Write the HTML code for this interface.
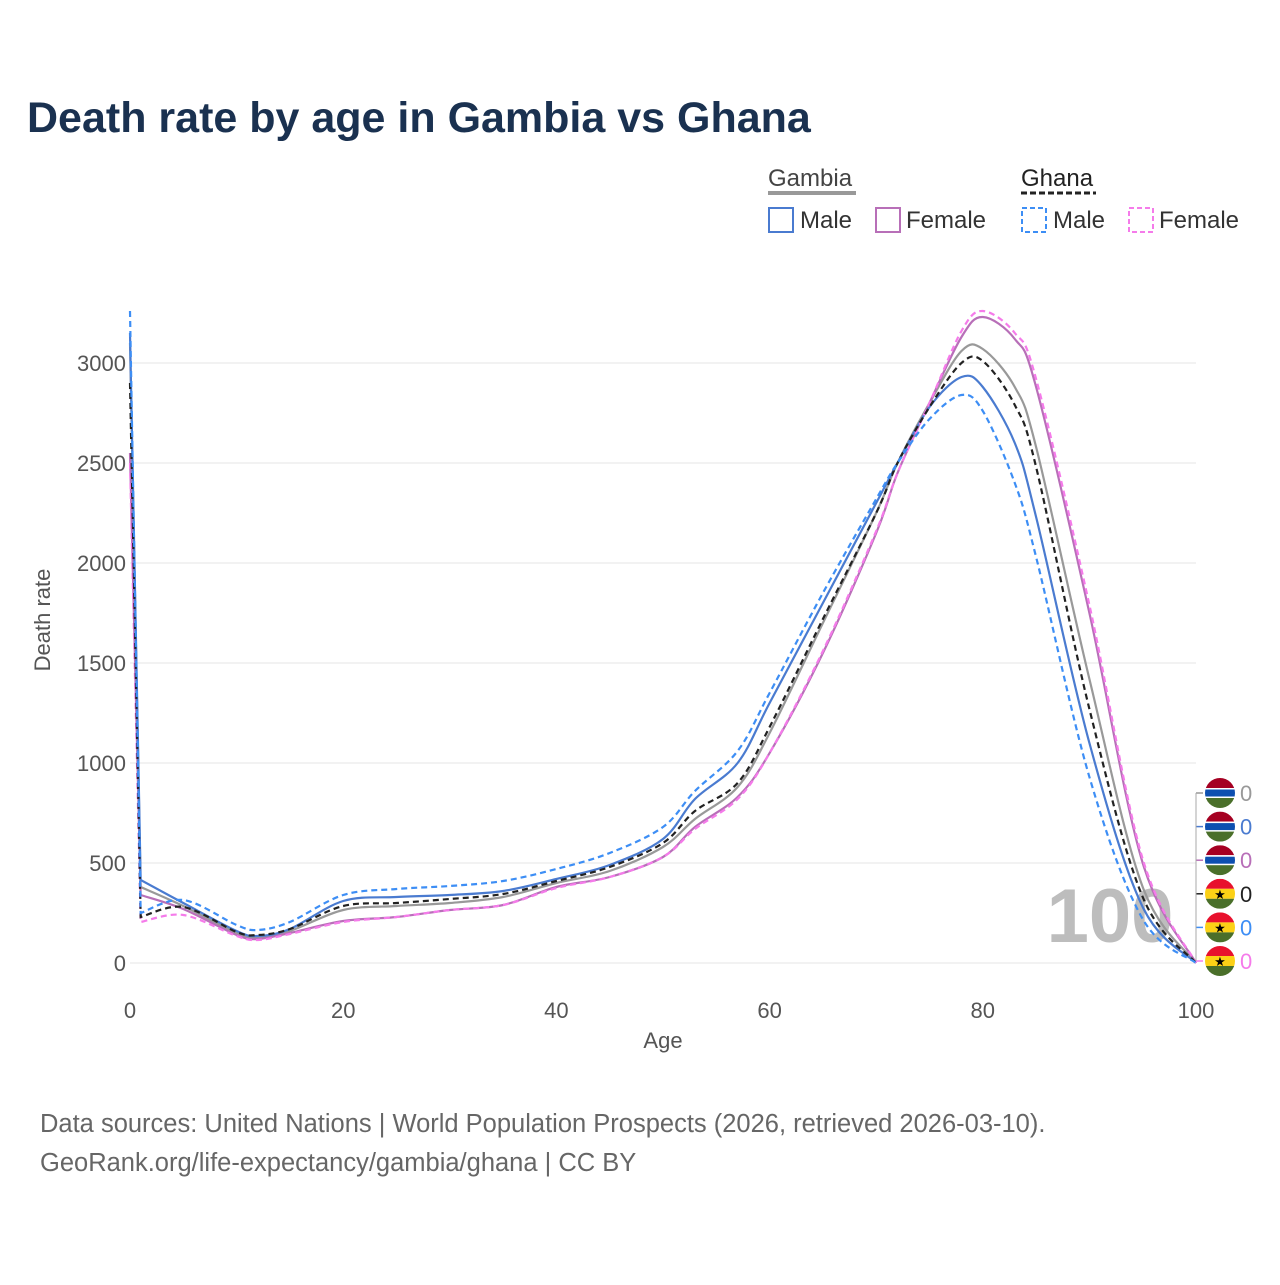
<!DOCTYPE html>
<html><head><meta charset="utf-8"><style>
body{margin:0;background:#fff;font-family:"Liberation Sans",sans-serif}
svg text{font-family:"Liberation Sans",sans-serif}
</style></head><body>
<svg id="chart" width="1280" height="1280" viewBox="0 0 1280 1280">
<text x="27" y="132" font-size="43" font-weight="bold" fill="#1a3150">Death rate by age in Gambia vs Ghana</text>
<g>
<text x="768" y="186" font-size="24" fill="#444">Gambia</text>
<line x1="768" y1="193" x2="856" y2="193" stroke="#999" stroke-width="4"/>
<text x="1021" y="186" font-size="24" fill="#222">Ghana</text>
<line x1="1021" y1="193" x2="1096" y2="193" stroke="#222" stroke-width="3" stroke-dasharray="6,3"/>
<rect x="769" y="208" width="24" height="24" fill="none" stroke="#4a7bd0" stroke-width="2"/>
<text x="800" y="228" font-size="24" fill="#333">Male</text>
<rect x="876" y="208" width="24" height="24" fill="none" stroke="#b86fb8" stroke-width="2"/>
<text x="906" y="228" font-size="24" fill="#333">Female</text>
<rect x="1022" y="208" width="24" height="24" fill="none" stroke="#3d8ef5" stroke-width="2" stroke-dasharray="5,3"/>
<text x="1053" y="228" font-size="24" fill="#333">Male</text>
<rect x="1129" y="208" width="24" height="24" fill="none" stroke="#f57bea" stroke-width="2" stroke-dasharray="5,3"/>
<text x="1159" y="228" font-size="24" fill="#333">Female</text>
</g>
<g id="grid"></g>
<text x="1110" y="942" font-size="76" font-weight="bold" fill="#bdbdbd" text-anchor="middle">100</text>
<g id="series"></g>
<g id="axes"></g>
<text x="50" y="620" font-size="22" fill="#555" text-anchor="middle" transform="rotate(-90 50 620)">Death rate</text>
<text x="663" y="1048" font-size="22" fill="#555" text-anchor="middle">Age</text>
<g id="endlabels"></g>
<text x="40" y="1132" font-size="25.5" fill="#666">Data sources: United Nations | World Population Prospects (2026, retrieved 2026-03-10).</text>
<text x="40" y="1171" font-size="25.5" fill="#666">GeoRank.org/life-expectancy/gambia/ghana | CC BY</text>
</svg>
<script>
const ages=[0,1,5,10,12,15,20,25,30,35,40,45,50,53,57,60,65,70,72,75,78,80,83,85,90,95,100];
const gambiaTotal=[3100,380,285,150,130,160,265,285,300,330,400,460,580,720,880,1150,1700,2250,2500,2800,3060,3070,2880,2580,1420,380,0];
const gambiaMale=[3150,415,300,160,135,170,310,330,340,360,420,490,620,820,1000,1300,1800,2300,2500,2780,2930,2880,2600,2230,1100,280,0];
const gambiaFemale=[2550,340,270,140,120,150,210,230,265,290,380,430,530,680,830,1050,1550,2150,2450,2800,3130,3230,3120,2880,1750,500,0];
const ghanaTotal=[2900,230,280,155,140,170,285,300,320,345,410,480,600,760,900,1180,1720,2250,2500,2780,3000,3010,2790,2480,1270,330,0];
const ghanaMale=[3260,250,315,190,165,205,340,370,385,410,470,550,680,860,1060,1350,1850,2320,2500,2720,2840,2760,2400,2030,930,220,0];
const ghanaFemale=[2500,205,240,135,115,145,205,230,265,290,375,430,530,670,820,1050,1560,2160,2450,2800,3160,3260,3150,2920,1790,520,0];
const yTicks=[0,500,1000,1500,2000,2500,3000];
const xTicks=[0,20,40,60,80,100];
const NS="http://www.w3.org/2000/svg";
const X=a=>130+a*10.66, Y=v=>963-v*0.2;
function mk(t,at,parent){const e=document.createElementNS(NS,t);for(const k in at)e.setAttribute(k,at[k]);document.getElementById(parent).appendChild(e);return e;}
yTicks.forEach(v=>{
 const l=mk('line',{x1:130,x2:1196,y1:Y(v),y2:Y(v),stroke:'#e6e6e6','stroke-width':1},'grid');
 
 
 const t=mk('text',{x:126,y:Y(v)+8,'font-size':22,fill:'#555','text-anchor':'end'},'axes');
 t.textContent=v;
 
 
});
xTicks.forEach(v=>{
 const t=mk('text',{x:X(v),y:1018,'font-size':22,fill:'#555','text-anchor':'middle'},'axes');
 t.textContent=v;
 
 
});
function path(vals){
 const p=ages.map((a,i)=>[X(a),Y(vals[i])]);
 let d=`M${p[0][0]},${p[0][1]} L${p[1][0]},${p[1][1]}`;
 for(let i=1;i<p.length-1;i++){
  const p0=p[Math.max(1,i-1)],p1=p[i],p2=p[i+1],p3=p[Math.min(p.length-1,i+2)];
  const c1=[p1[0]+(p2[0]-p0[0])/6,p1[1]+(p2[1]-p0[1])/6];
  const c2=[p2[0]-(p3[0]-p1[0])/6,p2[1]-(p3[1]-p1[1])/6];
  d+=` C${c1[0]},${c1[1]} ${c2[0]},${c2[1]} ${p2[0]},${p2[1]}`;
 }
 return d;
}
const series=[
 [gambiaTotal,'#999',false,'gambia-total-line'],
 [gambiaFemale,'#b86fb8',false,'gambia-female-line'],
 [gambiaMale,'#4a7bd0',false,'gambia-male-line'],
 [ghanaFemale,'#f57bea',true,'ghana-female-line'],
 [ghanaTotal,'#222',true,'ghana-total-line'],
 [ghanaMale,'#3d8ef5',true,'ghana-male-line']];
series.forEach(s=>{
 const e=mk('path',{d:path(s[0]),fill:'none',stroke:s[1],'stroke-width':2.2},'series');
 if(s[2])e.setAttribute('stroke-dasharray','6,4');
 
 
});
const flags=['gm','gm','gm','gh','gh','gh'];
const lblCol=['#999','#4a7bd0','#b86fb8','#222','#3d8ef5','#f57bea'];
flags.forEach((f,i)=>{
 const cy=793+i*33.6;
 mk('line',{x1:1196,x2:1203,y1:cy,y2:cy,stroke:lblCol[i],'stroke-width':1.5},'endlabels');
 const g=mk('g',{},'endlabels');
 
 
 const id='c'+i;
 const cp=document.createElementNS(NS,'clipPath');cp.setAttribute('id',id);
 const cc=document.createElementNS(NS,'circle');cc.setAttribute('cx',1220);cc.setAttribute('cy',cy);cc.setAttribute('r',15);cp.appendChild(cc);g.appendChild(cp);
 const r=(y,h,c)=>{const e=document.createElementNS(NS,'rect');e.setAttribute('x',1205);e.setAttribute('y',y);e.setAttribute('width',30);e.setAttribute('height',h);e.setAttribute('fill',c);e.setAttribute('clip-path',`url(#${id})`);g.appendChild(e);};
 if(f==='gm'){r(cy-15,10,'#a50022');r(cy-5,10,'#fff');r(cy-3.5,7,'#0d4fb0');r(cy+5,10,'#4a6f2a');}
 else{r(cy-15,10,'#e8112d');r(cy-5,10,'#fcd116');r(cy+5,10,'#4a6f2a');
  const s=document.createElementNS(NS,'text');s.setAttribute('x',1220);s.setAttribute('y',cy+5);s.setAttribute('font-size',13);s.setAttribute('text-anchor','middle');s.textContent='★';g.appendChild(s);}
 const t=mk('text',{x:1240,y:cy+8,'font-size':22,fill:lblCol[i]},'endlabels');
 t.textContent='0';
 
 
});
mk('line',{x1:1196,x2:1196,y1:793,y2:961,stroke:'#aaa','stroke-width':1},'endlabels');
</script>
</body></html>
